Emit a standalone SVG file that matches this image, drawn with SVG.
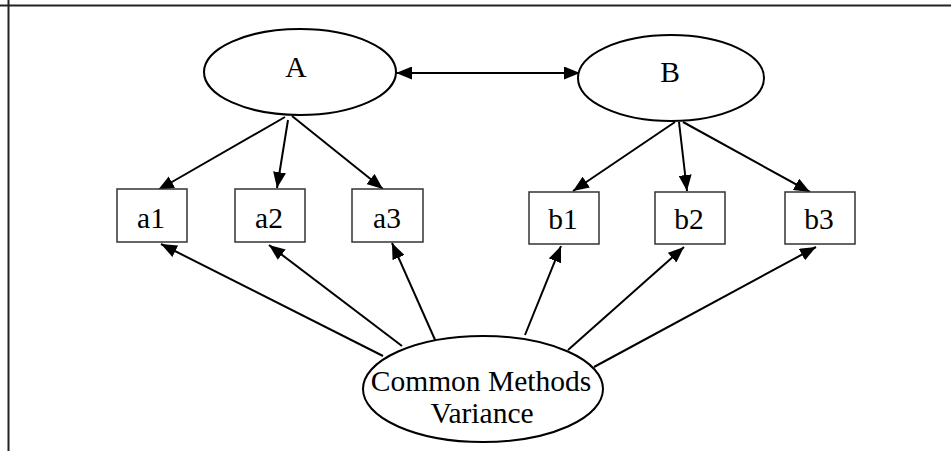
<svg xmlns="http://www.w3.org/2000/svg" width="951" height="451" viewBox="0 0 951 451">
  <defs>
    <marker id="head" markerUnits="userSpaceOnUse" markerWidth="17" markerHeight="13" refX="16" refY="6.5" orient="auto">
      <path d="M0,0 L16,6.5 L0,13 z" fill="#000"/>
    </marker>
    <marker id="tail" markerUnits="userSpaceOnUse" markerWidth="17" markerHeight="13" refX="0" refY="6.5" orient="auto">
      <path d="M16,0 L0,6.5 L16,13 z" fill="#000"/>
    </marker>
    <style>
      .frame { stroke: #222; stroke-width: 2; fill: none; }
      .latent { fill: #fff; stroke: #000; stroke-width: 2; }
      .item { fill: #fff; stroke: #333; stroke-width: 1.5; }
      .lbl { font-family: "Liberation Serif", "Times New Roman", serif; font-size: 29.5px; fill: #000; text-anchor: middle; }
      .edge { stroke: #000; stroke-width: 2; fill: none; marker-end: url(#head); }
    </style>
  </defs>

  <rect width="951" height="451" fill="#fff"/>

  <!-- page frame -->
  <line class="frame" x1="0" y1="5.5" x2="951" y2="5.5"/>
  <line class="frame" x1="8.5" y1="0" x2="8.5" y2="451"/>

  <!-- connectors -->
  <g id="connectors">
    <line class="edge" x1="396" y1="73" x2="580" y2="73" style="marker-start:url(#tail)"/>
    <line class="edge" x1="285" y1="117" x2="158" y2="190"/>
    <line class="edge" x1="288" y1="120" x2="277" y2="188"/>
    <line class="edge" x1="292" y1="116" x2="383" y2="189"/>
    <line class="edge" x1="675" y1="122" x2="573" y2="191"/>
    <line class="edge" x1="679" y1="122" x2="687" y2="191"/>
    <line class="edge" x1="683" y1="122" x2="810" y2="192"/>
    <line class="edge" x1="383" y1="356" x2="161" y2="244"/>
    <line class="edge" x1="402" y1="346" x2="269" y2="245"/>
    <line class="edge" x1="436" y1="342" x2="392" y2="243"/>
    <line class="edge" x1="525" y1="335" x2="561" y2="246"/>
    <line class="edge" x1="568" y1="350" x2="684" y2="247"/>
    <line class="edge" x1="594" y1="367" x2="816" y2="247"/>
  </g>

  <!-- latent factors -->
  <g id="factor-A">
    <ellipse class="latent" cx="300" cy="72" rx="96" ry="43"/>
    <text class="lbl" x="296" y="77">A</text>
  </g>
  <g id="factor-B">
    <ellipse class="latent" cx="671" cy="78" rx="93" ry="43"/>
    <text class="lbl" x="670" y="82">B</text>
  </g>

  <!-- indicators -->
  <g id="item-a1">
    <rect class="item" x="117" y="189" width="70" height="53"/>
    <text class="lbl" x="151" y="228">a1</text>
  </g>
  <g id="item-a2">
    <rect class="item" x="235" y="189" width="70" height="53"/>
    <text class="lbl" x="269" y="228">a2</text>
  </g>
  <g id="item-a3">
    <rect class="item" x="352" y="189" width="71" height="53"/>
    <text class="lbl" x="387" y="228">a3</text>
  </g>
  <g id="item-b1">
    <rect class="item" x="529" y="192" width="70" height="52"/>
    <text class="lbl" x="563" y="229">b1</text>
  </g>
  <g id="item-b2">
    <rect class="item" x="655" y="192" width="70" height="52"/>
    <text class="lbl" x="689" y="229">b2</text>
  </g>
  <g id="item-b3">
    <rect class="item" x="785" y="192" width="70" height="52"/>
    <text class="lbl" x="819" y="229">b3</text>
  </g>

  <!-- method factor -->
  <g id="method-factor">
    <ellipse class="latent" cx="483" cy="389" rx="120" ry="53"/>
    <text class="lbl" x="481" y="391">Common Methods</text>
    <text class="lbl" x="482" y="423">Variance</text>
  </g>
</svg>
